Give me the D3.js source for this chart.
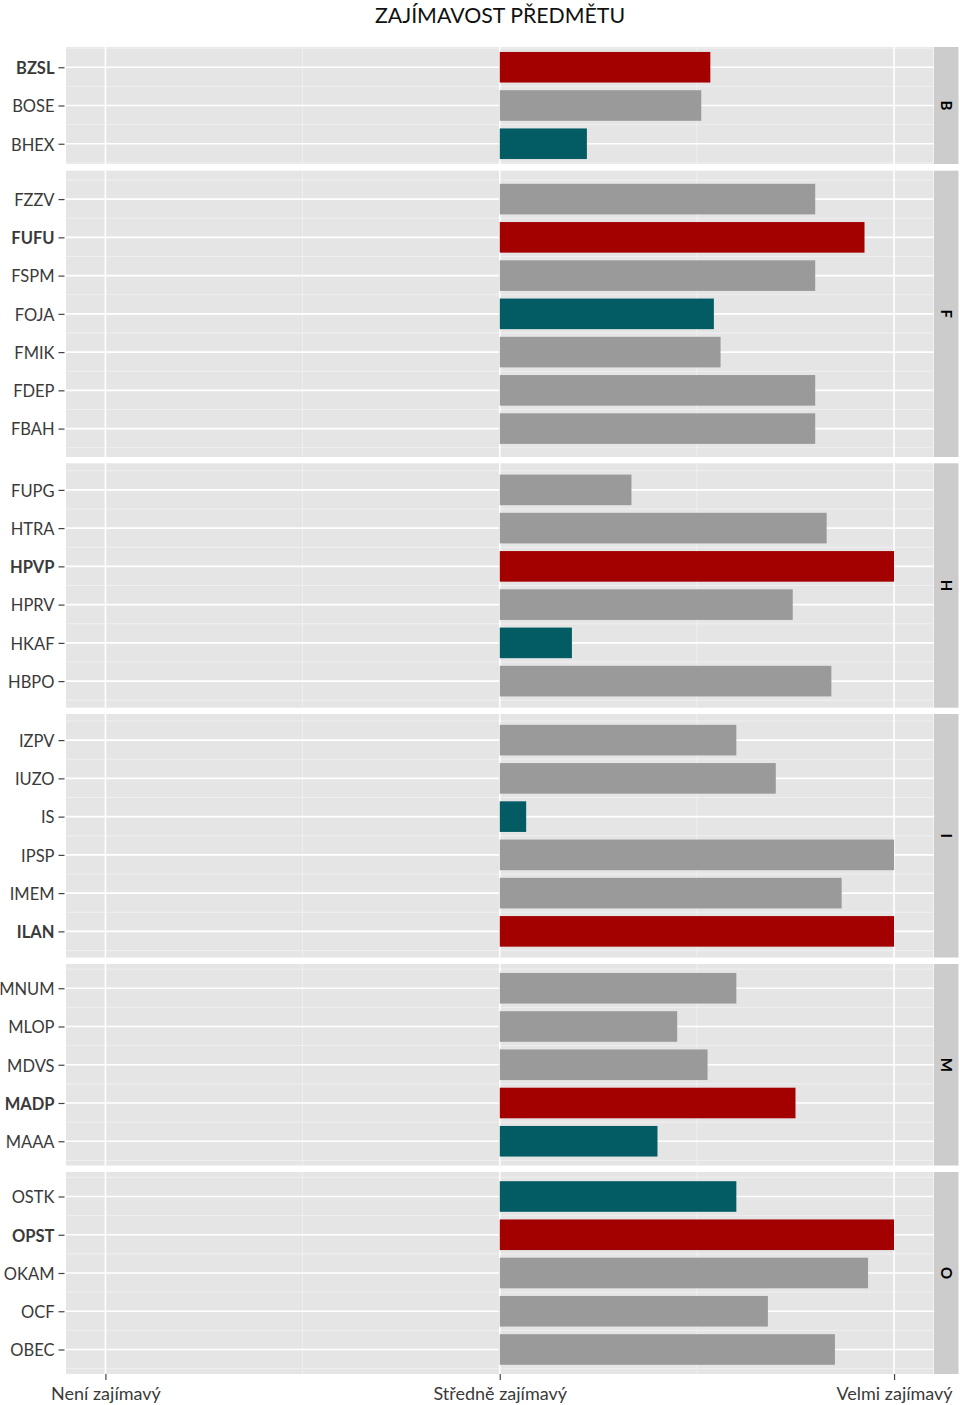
<!DOCTYPE html>
<html>
<head>
<meta charset="utf-8">
<script src="https://cdn.jsdelivr.net/npm/d3@7"></script>
<style>
  body { margin: 0; background: #fff; }
  text { font-family: Lato, "DejaVu Sans", sans-serif; }
</style>
</head>
<body>
<div id="chart"></div>
<script>
// data (0 = Středně, 1 = Velmi)
let faculties = ["B", "F", "H", "I", "M", "O"];
let codes = ["BZSL", "BOSE", "BHEX",
             "FZZV", "FUFU", "FSPM", "FOJA", "FMIK", "FDEP", "FBAH",
             "FUPG", "HTRA", "HPVP", "HPRV", "HKAF", "HBPO",
             "IZPV", "IUZO", "IS", "IPSP", "IMEM", "ILAN",
             "MNUM", "MLOP", "MDVS", "MADP", "MAAA",
             "OSTK", "OPST", "OKAM", "OCF", "OBEC"];
let facultyOf = ["B", "B", "B",
                 "F", "F", "F", "F", "F", "F", "F",
                 "H", "H", "H", "H", "H", "H",
                 "I", "I", "I", "I", "I", "I",
                 "M", "M", "M", "M", "M",
                 "O", "O", "O", "O", "O"];
let scores = [0.534, 0.511, 0.221,
              0.800, 0.925, 0.800, 0.543, 0.560, 0.800, 0.800,
              0.334, 0.829, 1.000, 0.743, 0.183, 0.841,
              0.600, 0.700, 0.067, 1.000, 0.867, 1.000,
              0.600, 0.450, 0.527, 0.750, 0.400,
              0.600, 1.000, 0.934, 0.680, 0.850];
// "top" = best subject of the faculty (red, bold), "low" = worst (teal)
let rank = ["top", "other", "low",
            "other", "top", "other", "low", "other", "other", "other",
            "other", "other", "top", "other", "low", "other",
            "other", "other", "low", "other", "other", "top",
            "other", "other", "other", "top", "low",
            "low", "top", "other", "other", "other"];
let xTicks = [-1, 0, 1];
let xTickLabels = ["Není zajímavý", "Středně zajímavý", "Velmi zajímavý"];
let xMinor = [-0.5, 0.5];

let width = 960, height = 1405;
let panelLeft = 66, panelRight = 933.5;
// panel top/bottom in px, one per facet
let panelTop = [47, 170.7, 463.3, 714, 964, 1172];
let panelBottom = [164, 457, 707.7, 957.5, 1165.5, 1374];
let step = 38.25;

let colors = {top: "#A30000", low: "#035B64", other: "#9A9A9A"};

let data = codes.map((c, i) => ({code: c, fac: facultyOf[i], score: scores[i], rank: rank[i]}));

let svg = d3.select("#chart")
    .append("svg")
    .attr("width", width)
    .attr("height", height);

let x = d3.scaleLinear()
    .domain([-1.1, 1.1])
    .range([panelLeft, panelRight]);

svg.append("text")
    .attr("x", 500)
    .attr("y", 23)
    .style("text-anchor", "middle")
    .style("font-size", "21.3px")
    .style("fill", "#111")
    .text("ZAJÍMAVOST PŘEDMĚTU");

faculties.forEach(function(f, k) {
    let rows = data.filter(d => d.fac == f);
    let top = panelTop[k], bottom = panelBottom[k];
    let h = bottom - top;
    let pad = (h / step - (rows.length - 1)) / 2;

    let y = d3.scalePoint()
        .domain(rows.map(d => d.code))
        .range([top, bottom])
        .padding(pad);

    let g = svg.append("g");

    g.append("rect")
        .attr("x", panelLeft)
        .attr("y", top)
        .attr("width", panelRight - panelLeft)
        .attr("height", h)
        .attr("fill", "#E5E5E5");

    // minor grid
    let halfs = rows.map(d => y(d.code) - step / 2).concat([y(rows[rows.length - 1].code) + step / 2]);
    g.selectAll(".hminor").data(halfs.filter(v => v > top && v < bottom))
        .enter().append("line")
        .attr("x1", panelLeft).attr("x2", panelRight)
        .attr("y1", d => d).attr("y2", d => d)
        .attr("stroke", "#F2F2F2").attr("stroke-width", 0.8);
    g.selectAll(".vminor").data(xMinor)
        .enter().append("line")
        .attr("x1", d => x(d)).attr("x2", d => x(d))
        .attr("y1", top).attr("y2", bottom)
        .attr("stroke", "#F2F2F2").attr("stroke-width", 0.8);

    // major grid
    g.selectAll(".hmajor").data(rows)
        .enter().append("line")
        .attr("x1", panelLeft).attr("x2", panelRight)
        .attr("y1", d => y(d.code)).attr("y2", d => y(d.code))
        .attr("stroke", "#fff").attr("stroke-width", 1.6);
    g.selectAll(".vmajor").data(xTicks)
        .enter().append("line")
        .attr("x1", d => x(d)).attr("x2", d => x(d))
        .attr("y1", top).attr("y2", bottom)
        .attr("stroke", "#fff").attr("stroke-width", 1.6);

    // bars
    let bh = step * 0.8;
    g.selectAll(".bar").data(rows)
        .enter().append("rect")
        .attr("x", x(0))
        .attr("y", d => y(d.code) - bh / 2)
        .attr("width", d => x(d.score) - x(0))
        .attr("height", bh)
        .attr("fill", d => colors[d.rank]);

    // y axis
    let ax = svg.append("g")
        .attr("transform", `translate(${panelLeft - 1.5},0)`)
        .call(d3.axisLeft(y).tickSize(6).tickPadding(4))
        .call(a => a.select(".domain").remove());
    ax.selectAll(".tick line").attr("stroke", "#444").attr("stroke-width", 1.2);
    ax.selectAll(".tick text")
        .attr("dy", "0.38em")
        .style("font-size", "16.5px")
        .style("fill", "#3A3A3A")
        .style("font-weight", c => rows.find(d => d.code == c).rank == "top" ? "bold" : "normal");

    // strip
    svg.append("rect")
        .attr("x", panelRight + 0.5)
        .attr("y", top)
        .attr("width", 24.5)
        .attr("height", h)
        .attr("fill", "#CCCCCC");
    svg.append("text")
        .attr("transform", `translate(${panelRight + 12.5},${(top + bottom) / 2}) rotate(90)`)
        .style("text-anchor", "middle")
        .attr("dy", "0.35em")
        .style("font-size", "15px")
        .style("font-weight", "bold")
        .style("fill", "#000")
        .text(f);
});

let xAxis = svg.append("g")
    .attr("transform", `translate(0,${panelBottom[panelBottom.length - 1]})`)
    .call(d3.axisBottom(x).tickValues(xTicks).tickFormat((d, i) => xTickLabels[i]).tickSize(6).tickPadding(7))
    .call(a => a.select(".domain").remove());
xAxis.selectAll(".tick line").attr("stroke", "#444").attr("stroke-width", 1.2);
xAxis.selectAll(".tick text")
    .style("font-size", "18px")
    .style("fill", "#3A3A3A");
</script>
</body>
</html>
